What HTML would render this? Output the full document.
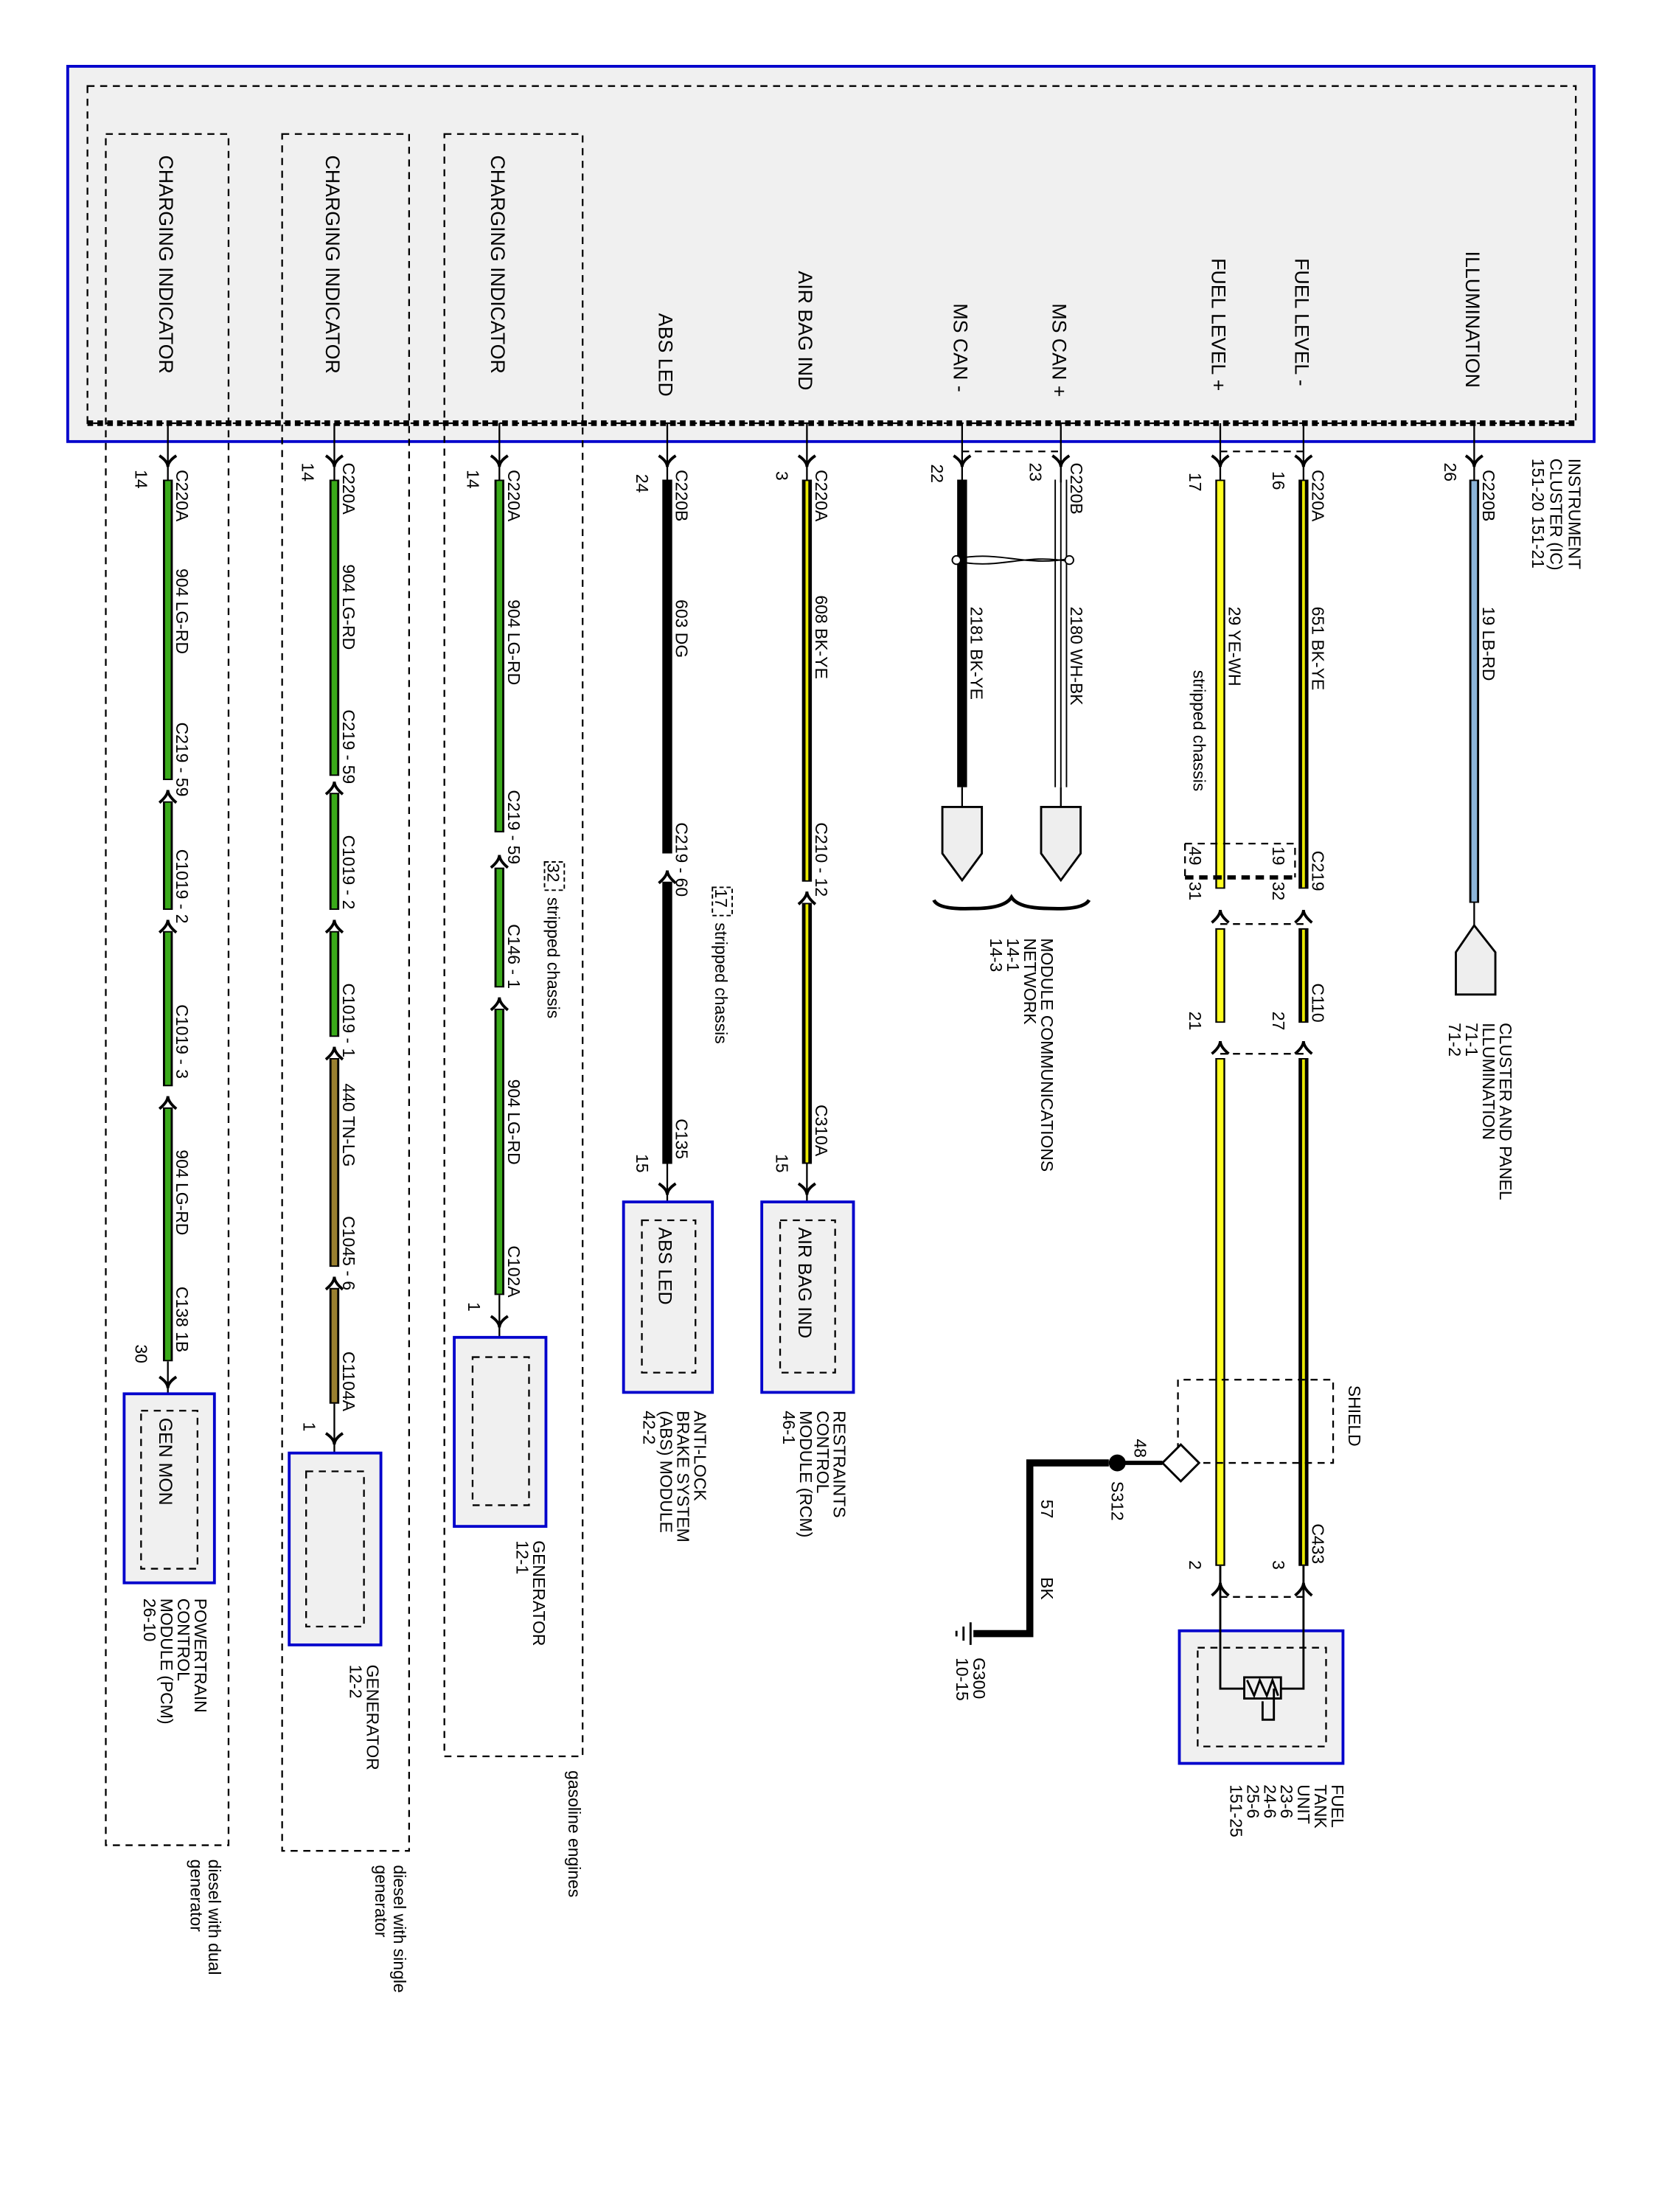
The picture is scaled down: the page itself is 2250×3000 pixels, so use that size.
<!DOCTYPE html>
<html><head><meta charset="utf-8"><style>
html,body{margin:0;padding:0;background:#fff}
svg{display:block}
text{font-family:"Liberation Sans",sans-serif;fill:#000}
</style></head><body>
<svg width="2250" height="3000" viewBox="0 0 1176 1568" preserveAspectRatio="none" xmlns="http://www.w3.org/2000/svg">
<defs>
<path id="arD" d="M-6,-7 Q0,-3 0,1 Q0,-3 6,-7" fill="none" stroke="#000" stroke-width="2"/>
<path id="arU" d="M-6,7 Q0,2 0,-2 Q0,2 6,7" fill="none" stroke="#000" stroke-width="2"/>
</defs>
<rect x="48" y="47" width="1082" height="266" fill="#f0f0f0" stroke="#0000cc" stroke-width="2"/>
<rect x="62" y="61" width="1055" height="239" fill="none" stroke="#000" stroke-width="1.2" stroke-dasharray="5,4"/>
<line x1="62" y1="300" x2="1117" y2="300" stroke="#000" stroke-width="4" stroke-dasharray="4,3"/>
<g fill="none" stroke="#000" stroke-width="1.2" stroke-dasharray="5,4">
<path d="M75,95 H162 V1308 H75 Z"/>
<path d="M200,95 H290 V1312 H200 Z"/>
<path d="M315,95 H413 V1245 H315 Z"/>
</g>
<g font-size="14">
<text transform="translate(113,110) rotate(90)">CHARGING INDICATOR</text>
<text transform="translate(231,110) rotate(90)">CHARGING INDICATOR</text>
<text transform="translate(348,110) rotate(90)">CHARGING INDICATOR</text>
<text transform="translate(467,222) rotate(90)">ABS LED</text>
<text transform="translate(566,192) rotate(90)">AIR BAG IND</text>
<text transform="translate(676,215) rotate(90)">MS CAN -</text>
<text transform="translate(746,215) rotate(90)">MS CAN +</text>
<text transform="translate(859,183) rotate(90)">FUEL LEVEL +</text>
<text transform="translate(918,183) rotate(90)">FUEL LEVEL -</text>
<text transform="translate(1039,178) rotate(90)">ILLUMINATION</text>
</g>
<g stroke="#000" stroke-width="1.2">
<line x1="119" y1="300" x2="119" y2="342"/><line x1="237" y1="300" x2="237" y2="342"/>
<line x1="354" y1="300" x2="354" y2="342"/><line x1="473" y1="300" x2="473" y2="342"/>
<line x1="572" y1="300" x2="572" y2="342"/><line x1="682" y1="300" x2="682" y2="342"/>
<line x1="752" y1="300" x2="752" y2="342"/><line x1="865" y1="300" x2="865" y2="342"/>
<line x1="924" y1="300" x2="924" y2="342"/><line x1="1045" y1="300" x2="1045" y2="342"/>
</g>
<use href="#arD" x="119" y="330"/><use href="#arD" x="237" y="330"/><use href="#arD" x="354" y="330"/>
<use href="#arD" x="473" y="330"/><use href="#arD" x="572" y="330"/><use href="#arD" x="682" y="330"/>
<use href="#arD" x="752" y="330"/><use href="#arD" x="865" y="330"/><use href="#arD" x="924" y="330"/>
<use href="#arD" x="1045" y="330"/>
<g fill="none" stroke="#000" stroke-width="1.2" stroke-dasharray="5,4">
<path d="M682,320 H752"/><path d="M865,320 H924"/>
</g>
<g font-size="12">
<text transform="translate(125,333) rotate(90)">C220A</text><text transform="translate(96,333) rotate(90)">14</text>
<text transform="translate(243,328) rotate(90)">C220A</text><text transform="translate(214,328) rotate(90)">14</text>
<text transform="translate(360,333) rotate(90)">C220A</text><text transform="translate(331,333) rotate(90)">14</text>
<text transform="translate(479,333) rotate(90)">C220B</text><text transform="translate(451,336) rotate(90)">24</text>
<text transform="translate(578,333) rotate(90)">C220A</text><text transform="translate(550,334) rotate(90)">3</text>
<text transform="translate(660,329) rotate(90)">22</text>
<text transform="translate(759,328) rotate(90)">C220B</text><text transform="translate(730,328) rotate(90)">23</text>
<text transform="translate(843,335) rotate(90)">17</text>
<text transform="translate(930,333) rotate(90)">C220A</text><text transform="translate(902,334) rotate(90)">16</text>
<text transform="translate(1051,333) rotate(90)">C220B</text><text transform="translate(1024,328) rotate(90)">26</text>
<text transform="translate(1112,325) rotate(90)">INSTRUMENT</text>
<text transform="translate(1099,325) rotate(90)">CLUSTER (IC)</text>
<text transform="translate(1086,325) rotate(90)">151-20  151-21</text>
</g>
<g stroke-linecap="butt">
<g stroke="#000" stroke-width="7">
<line x1="119" y1="340" x2="119" y2="553"/><line x1="119" y1="568" x2="119" y2="645"/>
<line x1="119" y1="660" x2="119" y2="770"/><line x1="119" y1="785" x2="119" y2="965"/>
<line x1="237" y1="340" x2="237" y2="550"/><line x1="237" y1="562" x2="237" y2="645"/>
<line x1="237" y1="660" x2="237" y2="735"/><line x1="237" y1="750" x2="237" y2="898"/>
<line x1="237" y1="913" x2="237" y2="995"/>
<line x1="354" y1="340" x2="354" y2="590"/><line x1="354" y1="615" x2="354" y2="700"/>
<line x1="354" y1="715" x2="354" y2="918"/>
<line x1="473" y1="340" x2="473" y2="605"/><line x1="473" y1="625" x2="473" y2="825"/>
<line x1="572" y1="340" x2="572" y2="625"/><line x1="572" y1="640" x2="572" y2="825"/>
<line x1="682" y1="340" x2="682" y2="558"/>
<line x1="865" y1="340" x2="865" y2="630"/><line x1="865" y1="658" x2="865" y2="725"/>
<line x1="865" y1="750" x2="865" y2="1110"/>
<line x1="924" y1="340" x2="924" y2="630"/><line x1="924" y1="658" x2="924" y2="725"/>
<line x1="924" y1="750" x2="924" y2="1110"/>
<line x1="1045" y1="340" x2="1045" y2="640"/>
</g>
<g stroke="#3aaa1a" stroke-width="4">
<line x1="119" y1="341" x2="119" y2="552"/><line x1="119" y1="569" x2="119" y2="644"/>
<line x1="119" y1="661" x2="119" y2="769"/><line x1="119" y1="786" x2="119" y2="964"/>
<line x1="237" y1="341" x2="237" y2="549"/><line x1="237" y1="563" x2="237" y2="644"/>
<line x1="237" y1="661" x2="237" y2="734"/>
<line x1="354" y1="341" x2="354" y2="589"/><line x1="354" y1="616" x2="354" y2="699"/>
<line x1="354" y1="716" x2="354" y2="917"/>
</g>
<g stroke="#9a8030" stroke-width="4">
<line x1="237" y1="751" x2="237" y2="897"/><line x1="237" y1="914" x2="237" y2="994"/>
</g>
<g stroke="#e8e800" stroke-width="2">
<line x1="572" y1="341" x2="572" y2="624"/><line x1="572" y1="641" x2="572" y2="824"/>
<line x1="924" y1="341" x2="924" y2="629"/><line x1="924" y1="659" x2="924" y2="724"/>
<line x1="924" y1="751" x2="924" y2="1109"/>
</g>
<g stroke="#ffff20" stroke-width="4.5">
<line x1="865" y1="341" x2="865" y2="629"/><line x1="865" y1="659" x2="865" y2="724"/>
<line x1="865" y1="751" x2="865" y2="1109"/>
</g>
<line x1="1045" y1="341" x2="1045" y2="639" stroke="#8cb4d8" stroke-width="4"/>
<line x1="748" y1="340" x2="748" y2="558" stroke="#000" stroke-width="1"/>
<line x1="756" y1="340" x2="756" y2="558" stroke="#000" stroke-width="1"/>
<line x1="752" y1="340" x2="752" y2="558" stroke="#000" stroke-width="1"/>
</g>
<path d="M678,396 C710,390 725,402 758,396 M678,398 C710,404 725,392 758,398" fill="none" stroke="#000" stroke-width="1"/>
<circle cx="678" cy="397" r="3" fill="#fff" stroke="#000"/><circle cx="758" cy="397" r="3" fill="#fff" stroke="#000"/>
<use href="#arU" x="119" y="562"/><use href="#arU" x="119" y="654"/><use href="#arU" x="119" y="779"/>
<use href="#arU" x="237" y="556"/><use href="#arU" x="237" y="654"/><use href="#arU" x="237" y="744"/><use href="#arU" x="237" y="907"/>
<use href="#arU" x="354" y="608"/><use href="#arU" x="354" y="709"/>
<use href="#arU" x="473" y="619"/><use href="#arU" x="572" y="634"/>
<use href="#arU" x="865" y="647"/><use href="#arU" x="924" y="647"/>
<use href="#arU" x="865" y="740"/><use href="#arU" x="924" y="740"/>
<use href="#arU" x="865" y="1124"/><use href="#arU" x="924" y="1124"/>
<g fill="none" stroke="#000" stroke-width="1.2" stroke-dasharray="5,4">
<path d="M865,655 H924"/><path d="M865,747 H924"/><path d="M865,1132 H924"/>
<path d="M840,598 H918 V622"/><path d="M840,598 V622"/>
<path d="M835,1037 V978 H945 V1037 H845"/>
</g>
<line x1="840" y1="622" x2="918" y2="622" stroke="#000" stroke-width="3" stroke-dasharray="6,4"/>
<g stroke="#000" stroke-width="1.2">
<line x1="119" y1="965" x2="119" y2="988"/><line x1="237" y1="995" x2="237" y2="1030"/>
<line x1="354" y1="918" x2="354" y2="948"/><line x1="473" y1="825" x2="473" y2="852"/>
<line x1="572" y1="825" x2="572" y2="852"/>
<line x1="682" y1="558" x2="682" y2="572"/><line x1="752" y1="558" x2="752" y2="572"/>
<line x1="1045" y1="640" x2="1045" y2="656"/>
</g>
<use href="#arD" x="119" y="983"/><use href="#arD" x="237" y="1023"/><use href="#arD" x="354" y="940"/>
<use href="#arD" x="473" y="846"/><use href="#arD" x="572" y="846"/>
<path d="M668,572 H696 V605 L682,624 L668,605 Z" fill="#eee" stroke="#000" stroke-width="1.5"/>
<path d="M738,572 H766 V605 L752,624 L738,605 Z" fill="#eee" stroke="#000" stroke-width="1.5"/>
<path d="M1032,705 H1060 V675 L1045,656 L1032,675 Z" fill="#eee" stroke="#000" stroke-width="1.5"/>
<path d="M662,638 Q665,645 690,644 Q712,644 717,636 Q722,644 744,644 Q768,645 772,638" fill="none" stroke="#000" stroke-width="2.5"/>
<g fill="#f0f0f0" stroke="#0000cc" stroke-width="2">
<rect x="88" y="988" width="64" height="134"/><rect x="205" y="1030" width="65" height="136"/>
<rect x="322" y="948" width="65" height="134"/><rect x="442" y="852" width="63" height="135"/>
<rect x="540" y="852" width="65" height="135"/><rect x="836" y="1156" width="116" height="94"/>
</g>
<g fill="none" stroke="#000" stroke-width="1.2" stroke-dasharray="5,4">
<rect x="100" y="1000" width="40" height="112"/><rect x="217" y="1043" width="41" height="110"/>
<rect x="335" y="962" width="40" height="105"/><rect x="455" y="865" width="38" height="108"/>
<rect x="553" y="865" width="39" height="108"/><rect x="849" y="1168" width="91" height="70"/>
</g>
<g fill="none" stroke="#000" stroke-width="1.5">
<path d="M865,1110 V1197 H882"/><path d="M924,1110 V1197 H908"/>
<rect x="882" y="1189" width="26" height="15"/>
<path d="M884,1191 L889,1202 L893,1191 L898,1202 L902,1191 L906,1202"/>
<path d="M895,1206 V1219 H903 V1197"/>
</g>
<path d="M837,1024 L850,1037 L837,1050 L824,1037 Z" fill="#fff" stroke="#000" stroke-width="1.5"/>
<line x1="824" y1="1037" x2="792" y2="1037" stroke="#000" stroke-width="3"/>
<circle cx="792" cy="1037" r="6" fill="#000"/>
<path d="M786,1037 H730 V1158 H690" fill="none" stroke="#000" stroke-width="5"/>
<g stroke="#000" stroke-width="1.5">
<line x1="688" y1="1150" x2="688" y2="1166"/><line x1="683" y1="1153" x2="683" y2="1163"/><line x1="678" y1="1156" x2="678" y2="1160"/>
</g>
<g font-size="12">
<text transform="translate(125,403) rotate(90)">904  LG-RD</text>
<text transform="translate(125,512) rotate(90)">C219 - 59</text>
<text transform="translate(125,602) rotate(90)">C1019 - 2</text>
<text transform="translate(125,712) rotate(90)">C1019 - 3</text>
<text transform="translate(125,815) rotate(90)">904  LG-RD</text>
<text transform="translate(125,912) rotate(90)">C138 1B</text>
<text transform="translate(96,953) rotate(90)">30</text>
<text transform="translate(113,1005) rotate(90)" font-size="13">GEN MON</text>
<text transform="translate(138,1133) rotate(90)">POWERTRAIN</text>
<text transform="translate(126,1133) rotate(90)">CONTROL</text>
<text transform="translate(114,1133) rotate(90)">MODULE (PCM)</text>
<text transform="translate(102,1133) rotate(90)">26-10</text>
<text transform="translate(148,1318) rotate(90)">diesel with dual</text>
<text transform="translate(135,1318) rotate(90)">generator</text>

<text transform="translate(243,400) rotate(90)">904  LG-RD</text>
<text transform="translate(243,503) rotate(90)">C219 - 59</text>
<text transform="translate(243,592) rotate(90)">C1019 - 2</text>
<text transform="translate(243,697) rotate(90)">C1019 - 1</text>
<text transform="translate(243,768) rotate(90)">440  TN-LG</text>
<text transform="translate(243,862) rotate(90)">C1045 - 6</text>
<text transform="translate(243,958) rotate(90)">C1104A</text>
<text transform="translate(215,1008) rotate(90)">1</text>
<text transform="translate(260,1180) rotate(90)">GENERATOR</text>
<text transform="translate(248,1180) rotate(90)">12-2</text>
<text transform="translate(279,1322) rotate(90)">diesel with single</text>
<text transform="translate(266,1322) rotate(90)">generator</text>

<text transform="translate(360,425) rotate(90)">904  LG-RD</text>
<text transform="translate(360,560) rotate(90)">C219 - 59</text>
<text transform="translate(388,612) rotate(90)">32</text>
<rect x="386" y="611" width="14" height="20" fill="none" stroke="#000" stroke-width="1" stroke-dasharray="3,2"/>
<text transform="translate(388,636) rotate(90)">stripped chassis</text>
<text transform="translate(360,655) rotate(90)">C146 - 1</text>
<text transform="translate(360,765) rotate(90)">904  LG-RD</text>
<text transform="translate(360,883) rotate(90)">C102A</text>
<text transform="translate(332,923) rotate(90)">1</text>
<text transform="translate(378,1092) rotate(90)">GENERATOR</text>
<text transform="translate(366,1092) rotate(90)">12-1</text>
<text transform="translate(403,1255) rotate(90)">gasoline engines</text>

<text transform="translate(479,425) rotate(90)">603    DG</text>
<text transform="translate(479,583) rotate(90)">C219 - 60</text>
<text transform="translate(507,630) rotate(90)">17</text>
<rect x="505" y="629" width="14" height="20" fill="none" stroke="#000" stroke-width="1" stroke-dasharray="3,2"/>
<text transform="translate(507,654) rotate(90)">stripped chassis</text>
<text transform="translate(479,793) rotate(90)">C135</text>
<text transform="translate(451,818) rotate(90)">15</text>
<text transform="translate(467,870) rotate(90)" font-size="13">ABS LED</text>
<text transform="translate(492,1000) rotate(90)">ANTI-LOCK</text>
<text transform="translate(480,1000) rotate(90)">BRAKE SYSTEM</text>
<text transform="translate(468,1000) rotate(90)">(ABS) MODULE</text>
<text transform="translate(456,1000) rotate(90)">42-2</text>

<text transform="translate(578,422) rotate(90)">608   BK-YE</text>
<text transform="translate(578,583) rotate(90)">C210 - 12</text>
<text transform="translate(578,783) rotate(90)">C310A</text>
<text transform="translate(550,818) rotate(90)">15</text>
<text transform="translate(566,870) rotate(90)" font-size="13">AIR BAG IND</text>
<text transform="translate(591,1000) rotate(90)">RESTRAINTS</text>
<text transform="translate(579,1000) rotate(90)">CONTROL</text>
<text transform="translate(567,1000) rotate(90)">MODULE (RCM)</text>
<text transform="translate(555,1000) rotate(90)">46-1</text>

<text transform="translate(688,430) rotate(90)">2181   BK-YE</text>
<text transform="translate(759,430) rotate(90)">2180   WH-BK</text>
<text transform="translate(738,665) rotate(90)">MODULE COMMUNICATIONS</text>
<text transform="translate(726,665) rotate(90)">NETWORK</text>
<text transform="translate(714,665) rotate(90)">14-1</text>
<text transform="translate(702,665) rotate(90)">14-3</text>

<text transform="translate(871,430) rotate(90)">29     YE-WH</text>
<text transform="translate(846,475) rotate(90)">stripped chassis</text>
<text transform="translate(843,600) rotate(90)">49</text>
<text transform="translate(902,600) rotate(90)">19</text>
<text transform="translate(843,625) rotate(90)">31</text>
<text transform="translate(902,625) rotate(90)">32</text>
<text transform="translate(930,603) rotate(90)">C219</text>
<text transform="translate(843,717) rotate(90)">21</text>
<text transform="translate(902,717) rotate(90)">27</text>
<text transform="translate(930,697) rotate(90)">C110</text>
<text transform="translate(930,430) rotate(90)">651    BK-YE</text>
<text transform="translate(956,982) rotate(90)">SHIELD</text>
<text transform="translate(804,1020) rotate(90)">48</text>
<text transform="translate(788,1050) rotate(90)">S312</text>
<text transform="translate(738,1063) rotate(90)">57</text>
<text transform="translate(738,1118) rotate(90)">BK</text>
<text transform="translate(690,1175) rotate(90)">G300</text>
<text transform="translate(678,1175) rotate(90)">10-15</text>
<text transform="translate(843,1106) rotate(90)">2</text>
<text transform="translate(902,1106) rotate(90)">3</text>
<text transform="translate(930,1080) rotate(90)">C433</text>
<text transform="translate(944,1265) rotate(90)">FUEL</text>
<text transform="translate(932,1265) rotate(90)">TANK</text>
<text transform="translate(920,1265) rotate(90)">UNIT</text>
<text transform="translate(908,1265) rotate(90)">23-6</text>
<text transform="translate(896,1265) rotate(90)">24-6</text>
<text transform="translate(884,1265) rotate(90)">25-6</text>
<text transform="translate(872,1265) rotate(90)">151-25</text>

<text transform="translate(1051,430) rotate(90)">19     LB-RD</text>
<text transform="translate(1063,725) rotate(90)">CLUSTER AND PANEL</text>
<text transform="translate(1051,725) rotate(90)">ILLUMINATION</text>
<text transform="translate(1039,725) rotate(90)">71-1</text>
<text transform="translate(1027,725) rotate(90)">71-2</text>
</g>
</svg>
</body></html>
